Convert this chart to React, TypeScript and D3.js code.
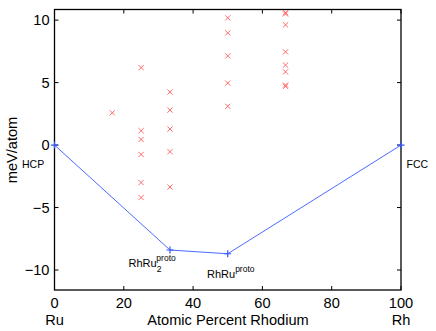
import * as d3 from "d3";
import React, { useEffect, useRef } from "react";

// candidate structures: atomic percent Rh and formation energy (meV/atom)
const structX = [16.67, 25, 25, 25, 25, 25, 25, 33.33, 33.33, 33.33, 33.33, 33.33,
  50, 50, 50, 50, 50, 66.67, 66.67, 66.67, 66.67, 66.67, 66.67, 66.67, 66.67];
const structY = [2.58, 6.2, 1.15, 0.45, -0.75, -3.0, -4.2, 4.24, 2.8, 1.28, -0.53, -3.36,
  10.18, 8.98, 7.14, 4.96, 3.1, 10.5, 10.6, 9.62, 7.46, 6.4, 5.86, 4.7, 4.8];

// convex hull
const hullX = [0, 33.33, 50, 100];
const hullY = [0, -8.4, -8.7, 0];

const xTicks = [0, 20, 40, 60, 80, 100];
const yTicks = [-10, -5, 0, 5, 10];

export default function App() {
  const ref = useRef<SVGSVGElement>(null);

  useEffect(() => {
    const svg = d3.select(ref.current);
    svg.selectAll("*").remove();
    const width = 436, height = 331;
    const margin = { top: 9.5, right: 35, bottom: 41, left: 54.5 };
    const font = "Helvetica, 'Liberation Sans', Arial, sans-serif";
    const fs = 14.6;

    const x = d3.scaleLinear().domain([0, 100]).range([margin.left, width - margin.right]);
    const y = d3.scaleLinear().domain([-11.6, 10.85]).range([height - margin.bottom, margin.top]);

    svg.attr("width", width).attr("height", height)
      .style("position", "absolute").style("left", 0).style("top", 0)
      .style("font-family", font);

    svg.append("rect").attr("width", width).attr("height", height).attr("fill", "#fff");

    // frame
    svg.append("rect")
      .attr("x", x(0)).attr("y", y(10.85))
      .attr("width", x(100) - x(0)).attr("height", y(-11.6) - y(10.85))
      .attr("fill", "none").attr("stroke", "#000").attr("stroke-width", 1.3);

    const tk = 4;
    const g = svg.append("g").attr("stroke", "#000").attr("stroke-width", 1);
    xTicks.forEach(t => {
      g.append("line").attr("x1", x(t)).attr("x2", x(t)).attr("y1", y(-11.6)).attr("y2", y(-11.6) - tk);
      g.append("line").attr("x1", x(t)).attr("x2", x(t)).attr("y1", y(10.85)).attr("y2", y(10.85) + tk);
    });
    yTicks.forEach(t => {
      g.append("line").attr("x1", x(0)).attr("x2", x(0) + tk).attr("y1", y(t)).attr("y2", y(t));
      g.append("line").attr("x1", x(100)).attr("x2", x(100) - tk).attr("y1", y(t)).attr("y2", y(t));
    });

    svg.append("g").selectAll("text").data(xTicks).join("text")
      .attr("x", d => x(d)).attr("y", 308).attr("text-anchor", "middle")
      .attr("font-size", fs).text(d => d);
    svg.append("g").selectAll("text").data(yTicks).join("text")
      .attr("x", x(0) - 5).attr("y", d => y(d) + 5).attr("text-anchor", "end")
      .attr("font-size", fs).text(d => (d < 0 ? "\u2212" + Math.abs(d) : d));

    svg.append("text").attr("x", x(0)).attr("y", 324.5).attr("text-anchor", "middle")
      .attr("font-size", fs).text("Ru");
    svg.append("text").attr("x", x(100)).attr("y", 324.5).attr("text-anchor", "middle")
      .attr("font-size", fs).text("Rh");
    svg.append("text").attr("x", 228).attr("y", 324.5).attr("text-anchor", "middle")
      .attr("font-size", fs).text("Atomic Percent Rhodium");
    svg.append("text").attr("transform", "translate(17,150) rotate(-90)")
      .attr("text-anchor", "middle").attr("font-size", fs).text("meV/atom");

    // candidate structures as red crosses
    const s = 2.6;
    const pts = structX.map((v, i) => [x(v), y(structY[i])]);
    svg.append("g").attr("stroke", "#ff5a5a").attr("stroke-width", 0.9)
      .selectAll("path").data(pts).join("path")
      .attr("d", ([px, py]) => `M${px - s},${py - s}L${px + s},${py + s}M${px - s},${py + s}L${px + s},${py - s}`);

    // hull
    const hull = hullX.map((v, i) => [x(v), y(hullY[i])] as [number, number]);
    svg.append("path").attr("d", d3.line()(hull)).attr("fill", "none")
      .attr("stroke", "#4a6cff").attr("stroke-width", 1);
    const p = 3.5;
    svg.append("g").attr("stroke", "#3355ff").attr("stroke-width", 1.2)
      .selectAll("path").data(hull).join("path")
      .attr("d", ([px, py]) => `M${px - p},${py}L${px + p},${py}M${px},${py - p}L${px},${py + p}`);

    // labels
    svg.append("text").attr("x", 22).attr("y", 168).attr("font-size", 10.5).text("HCP");
    svg.append("text").attr("x", 406.5).attr("y", 168).attr("font-size", 10.5).text("FCC");

    const l1 = svg.append("text").attr("x", 128.5).attr("y", 267).attr("font-size", 11);
    l1.append("tspan").text("RhRu");
    l1.append("tspan").attr("dy", 4.5).attr("font-size", 8.5).text("2");
    l1.append("tspan").attr("dy", -10.5).attr("dx", -5).attr("font-size", 8.5).text("proto");

    const l2 = svg.append("text").attr("x", 207).attr("y", 277.5).attr("font-size", 11);
    l2.append("tspan").text("RhRu");
    l2.append("tspan").attr("dy", -5.5).attr("font-size", 8.5).text("proto");
  }, []);

  return <svg ref={ref} />;
}
